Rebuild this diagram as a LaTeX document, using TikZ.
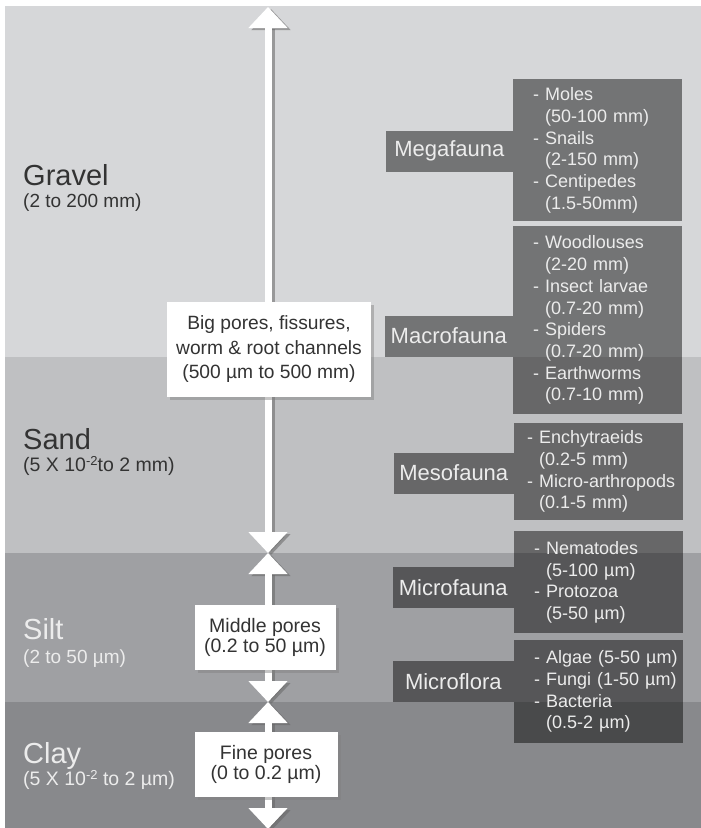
\documentclass[tikz,border=0pt]{standalone}
\usepackage{fontspec}
\setmainfont{Liberation Sans}
\usepackage{tikz}
\usetikzlibrary{arrows.meta}
\usetikzlibrary{shadows}
\definecolor{gravelbg}{HTML}{D6D7D9}
\definecolor{sandbg}{HTML}{BFC0C2}
\definecolor{siltbg}{HTML}{9FA0A3}
\definecolor{claybg}{HTML}{88898C}
\definecolor{darktext}{HTML}{333333}
\definecolor{lighttext}{HTML}{ECECEC}
\newcommand\expo[1]{\raisebox{6pt}{\fontsize{13}{13}\selectfont #1}}
\newcommand\ind{\phantom{- }}

\begin{document}
\begin{tikzpicture}[x=1pt,y=-1pt]
\useasboundingbox (0,0) rectangle (701,828);

\tikzstyle{soil}=[anchor=base west, inner sep=0pt, font=\fontsize{29}{30}\selectfont]
\tikzstyle{sizerange}=[anchor=base west, inner sep=0pt, font=\fontsize{19}{20}\selectfont]
\tikzstyle{porearrow}=[line width=7pt, draw=white,
	{Triangle[width=38pt,length=21pt]}-{Triangle[width=38pt,length=21pt]}]
\tikzstyle{poreshadow}=[porearrow, draw=black!60, opacity=0.55,
	transform canvas={xshift=3pt,yshift=-2pt}]
\tikzstyle{pore}=[
	fill=white,
	draw=none,
	text=darktext,
	align=center,
	inner sep=0pt,
	drop shadow={shadow xshift=3pt, shadow yshift=-3pt, opacity=0.45}
]
\tikzstyle{taxon}=[
	fill=black, fill opacity=0.46, text opacity=1,
	text=lighttext,
	font=\fontsize{22}{26}\selectfont,
	inner sep=0pt,
	anchor=east,
	minimum height=41
]
\tikzstyle{species}=[
	fill=black, fill opacity=0.46, text opacity=1,
	text=lighttext,
	font=\fontsize{18}{21.7}\selectfont,
	anchor=north west,
	align=left,
	text width=129,
	inner xsep=20, inner ysep=0pt
]

%%LAYERS
\fill[gravelbg] (5,6) rectangle (701,357);
\fill[sandbg] (5,357) rectangle (701,553);
\fill[siltbg] (5,553) rectangle (701,702);
\fill[claybg] (5,702) rectangle (701,828);

\node (gravel) [soil, text=darktext] at (23,185) {Gravel};
\node (gravelrange) [sizerange, text=darktext] at (23,207) {(2 to 200 mm)};
\node (sand) [soil, text=darktext] at (23,449) {Sand};
\node (sandrange) [sizerange, text=darktext, font=\fontsize{19.5}{20}\selectfont]
	at (23,471) {(5 X 10\expo{-2}to 2 mm)};
\node (silt) [soil, text=lighttext] at (23,639) {Silt};
\node (siltrange) [sizerange, text=lighttext] at (23,663) {(2 to 50 µm)};
\node (clay) [soil, text=lighttext] at (23,763) {Clay};
\node (clayrange) [sizerange, text=lighttext, font=\fontsize{19.5}{20}\selectfont]
	at (23,785) {(5 X 10\expo{-2} to 2 µm)};

%%PORES
\coordinate (top) at (268,7);
\coordinate (sandbase) at (268,553);
\coordinate (siltbase) at (268,702);
\coordinate (bottom) at (268,829);

\draw[poreshadow] (top) -- (sandbase);
\draw[poreshadow] (sandbase) -- (siltbase);
\draw[poreshadow] (siltbase) -- (bottom);
\draw[porearrow] (top) -- (sandbase);
\draw[porearrow] (sandbase) -- (siltbase);
\draw[porearrow] (siltbase) -- (bottom);

\node (bigpores) [pore, minimum width=204, minimum height=95,
	font=\fontsize{19.2}{24.5}\selectfont] at (269,349.5)
	{Big pores, fissures,\\worm \& root channels\\(500 µm to 500 mm)};
\node (middlepores) [pore, minimum width=141, minimum height=65,
	font=\fontsize{19.5}{20.5}\selectfont] at (265,637.5)
	{Middle pores\\(0.2 to 50 µm)};
\node (finepores) [pore, minimum width=143, minimum height=65,
	font=\fontsize{19.5}{20.5}\selectfont] at (266,764.5)
	{Fine pores\\(0 to 0.2 µm)};

%%FAUNA
\node (megalist) [species, minimum height=142] at (513,79) {%
- Moles\\\ind(50-100 mm)\\- Snails\\\ind(2-150 mm)\\- Centipedes\\\ind(1.5-50mm)};
\node (mega) [taxon, minimum width=127] at (513,151) {Megafauna};

\node (macrolist) [species, minimum height=188] at (513,226) {%
- Woodlouses\\\ind(2-20 mm)\\- Insect larvae\\\ind(0.7-20 mm)\\%
- Spiders\\\ind(0.7-20 mm)\\- Earthworms\\\ind(0.7-10 mm)};
\node (macro) [taxon, minimum width=128] at (513,336) {Macrofauna};

\node (mesolist) [species, minimum height=97, inner xsep=13, text width=143] at (514,423) {%
- Enchytraeids\\\ind(0.2-5 mm)\\\mbox{- Micro-arthropods}\\\ind(0.1-5 mm)};
\node (meso) [taxon, minimum width=120] at (514,473) {Mesofauna};

\node (microlist) [species, minimum height=102] at (514,531) {%
- Nematodes\\\ind(5-100 µm)\\- Protozoa\\\ind(5-50 µm)};
\node (micro) [taxon, minimum width=121] at (514,587.5) {Microfauna};

\node (floralist) [species, minimum height=103] at (514,640) {%
\mbox{- Algae (5-50 µm)}\\\mbox{- Fungi (1-50 µm)}\\- Bacteria\\\ind(0.5-2 µm)};
\node (flora) [taxon, minimum width=121] at (514,681.5) {Microflora};

\end{tikzpicture}
\end{document}
